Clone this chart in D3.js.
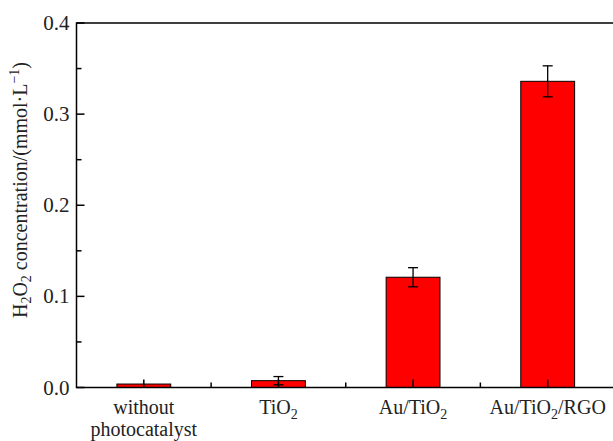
<!DOCTYPE html>
<html><head><meta charset="utf-8">
<script src="https://cdn.jsdelivr.net/npm/d3@7"></script>
<style>body{margin:0;background:#fff}svg{display:block}</style>
</head><body>
<script>
const categories = [["without","photocatalyst"],["TiO","2"],["Au/TiO","2"],["Au/TiO","2","/RGO"]];
const values = [0.0038, 0.0075, 0.121, 0.336];
const errors = [0.0, 0.0045, 0.0105, 0.017];
const yTicks = [0.0, 0.1, 0.2, 0.3, 0.4];
const yMinor = [0.05, 0.15, 0.25, 0.35];

const W = 613, H = 441;
const svg = d3.select("body").append("svg").attr("width", W).attr("height", H);
const font = "'Liberation Serif','Times New Roman',serif";

const x = d3.scaleLinear().domain([0.5, 4.5]).range([76.5, 615]);
const y = d3.scaleLinear().domain([0, 0.4]).range([387.5, 23]);
const barW = x(1.4) - x(1);

// bars
svg.selectAll("rect.bar").data(values).enter().append("rect")
  .attr("x", (d,i) => x(i+1) - barW/2)
  .attr("y", d => y(d))
  .attr("width", barW)
  .attr("height", d => y(0) - y(d))
  .attr("fill", "#ff0000").attr("stroke", "#000").attr("stroke-width", 1);

// error bars
const eg = svg.append("g").attr("stroke", "#000").attr("stroke-width", 1.3);
values.forEach((v,i) => {
  const cx = x(i+1), e = errors[i];
  if (e <= 0) return;
  eg.append("line").attr("x1", cx).attr("x2", cx).attr("y1", y(v+e)).attr("y2", y(v-e));
  eg.append("line").attr("x1", cx-5).attr("x2", cx+5).attr("y1", y(v+e)).attr("y2", y(v+e));
  eg.append("line").attr("x1", cx-5).attr("x2", cx+5).attr("y1", y(v-e)).attr("y2", y(v-e));
});

// axes lines
const ax = svg.append("g").attr("stroke", "#000").attr("stroke-width", 1.5).attr("fill", "none");
ax.append("path").attr("d", `M${x(4.5)},${y(0.4)}H${x(0.5)}V${y(0)}H${x(4.5)}`);

// y ticks
yTicks.forEach(t => ax.append("line").attr("x1", x(0.5)).attr("x2", x(0.5)+8).attr("y1", y(t)).attr("y2", y(t)));
yMinor.forEach(t => ax.append("line").attr("x1", x(0.5)).attr("x2", x(0.5)+5).attr("y1", y(t)).attr("y2", y(t)));
// x ticks
values.forEach((v,i) => ax.append("line").attr("x1", x(i+1)).attr("x2", x(i+1)).attr("y1", y(0)).attr("y2", y(0)-8));
[1.5, 2.5, 3.5].forEach(t => ax.append("line").attr("x1", x(t)).attr("x2", x(t)).attr("y1", y(0)).attr("y2", y(0)-5));

// y tick labels
svg.selectAll("text.yt").data(yTicks).enter().append("text")
  .attr("x", x(0.5) - 7).attr("y", d => y(d) + 7)
  .attr("text-anchor", "end").attr("font-family", font).attr("font-size", 21).attr("fill", "#222")
  .text(d => d.toFixed(1));

// x labels
categories.forEach((c,i) => {
  const t = svg.append("text").attr("x", x(i+1)).attr("y", 414)
    .attr("text-anchor", "middle").attr("font-family", font).attr("font-size", 20).attr("fill", "#222");
  if (i === 0) {
    t.append("tspan").attr("x", x(i+1)).text(c[0]);
    t.append("tspan").attr("x", x(i+1)).attr("dy", 22).text(c[1]);
  } else {
    t.append("tspan").text(c[0]);
    t.append("tspan").attr("font-size", 14).attr("dy", 5).text(c[1]);
    if (c[2]) t.append("tspan").attr("dy", -5).text(c[2]);
  }
});

// y title
const yt = svg.append("text").attr("transform", "translate(27,190) rotate(-90)")
  .attr("text-anchor", "middle").attr("font-family", font).attr("font-size", 20).attr("fill", "#222");
yt.append("tspan").text("H");
yt.append("tspan").attr("font-size", 14).attr("dy", 4).text("2");
yt.append("tspan").attr("dy", -4).text("O");
yt.append("tspan").attr("font-size", 14).attr("dy", 4).text("2");
yt.append("tspan").attr("dy", -4).text(" concentration/(mmol·L");
yt.append("tspan").attr("font-size", 14).attr("dy", -8).text("−1");
yt.append("tspan").attr("dy", 8).text(")");
</script>
</body></html>
